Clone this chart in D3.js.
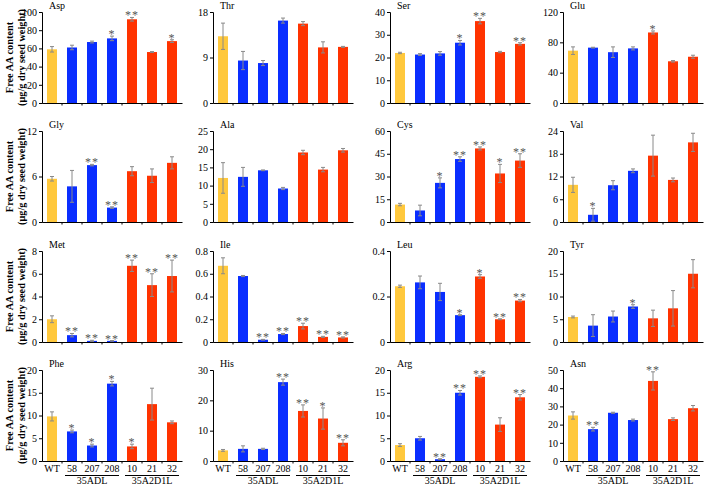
<!DOCTYPE html>
<html><head><meta charset="utf-8">
<script src="https://cdn.jsdelivr.net/npm/d3@7"></script>
<style>
body{margin:0;background:#fff;}
svg text{font-family:"Liberation Serif","Times New Roman",serif;}
</style></head>
<body><svg id="c" width="709" height="486"></svg>
<script>
const categories = ["WT","58","207","208","10","21","32"];
const groups = [{label:"35ADL", from:1, to:3},{label:"35A2D1L", from:4, to:6}];
const barColors = ["#FFC83C","#0A2EFF","#0A2EFF","#0A2EFF","#FF3300","#FF3300","#FF3300"];

const aminoAcids = ["Asp","Thr","Ser","Glu","Gly","Ala","Cys","Val","Met","Ile","Leu","Tyr","Phe","His","Arg","Asn"];
const yMax  = [100,18,40,120, 12,25,60,24, 8,0.8,0.4,20, 20,30,20,50];
const yTicks = [
 [0,20,40,60,80,100],[0,9,18],[0,10,20,30,40],[0,40,80,120],
 [0,6,12],[0,5,10,15,20,25],[0,15,30,45,60],[0,6,12,18,24],
 [0,2,4,6,8],[0,0.2,0.4,0.6,0.8],[0,0.2,0.4],[0,5,10,15,20],
 [0,5,10,15,20],[0,10,20,30],[0,5,10,15,20],[0,10,20,30,40,50]
];
const means = [
 [59,61,67,71,92,56,68],
 [13.2,8.4,7.9,16.3,15.7,11.0,11.1],
 [22,21.3,21.8,26.5,36,22.4,26],
 [69,73,67,72,93,55,61],
 [5.7,4.7,7.5,1.9,6.7,6.1,7.8],
 [12.1,12.4,14.2,9.2,19.1,14.4,19.7],
 [11.5,7.6,25.8,41.5,48.5,32,40.5],
 [9.8,1.9,9.7,13.5,17.5,11.1,21],
 [2.0,0.6,0.1,0.1,6.7,5.0,5.8],
 [0.67,0.58,0.02,0.07,0.14,0.045,0.04],
 [0.245,0.262,0.22,0.118,0.288,0.1,0.182],
 [5.5,3.6,5.6,7.8,5.2,7.4,15.0],
 [9.8,6.5,3.4,17,3.2,12.5,8.5],
 [3.5,4,4,26,16.5,14,6],
 [3.5,5,0.4,15,18.5,8,14],
 [25,17.5,26.5,22.5,44,23,29]
];
const errors = [
 [3,2.5,1,2.5,2,0.5,1.5],
 [2.6,1.8,0.5,0.5,0.4,1.1,0.1],
 [0.3,0.4,0.8,1,1.2,0.3,0.5],
 [5,0.5,7,2,2,1,2],
 [0.3,2.1,0.1,0.1,0.6,0.9,0.8],
 [4.2,2.6,0.1,0.3,0.6,0.6,0.5],
 [0.8,3.5,3.3,1.5,1,6,4.5],
 [2,1.7,1.2,0.5,5.4,0.5,2.4],
 [0.3,0.15,0.05,0.03,0.5,1.0,1.4],
 [0.07,0.005,0.003,0.005,0.025,0.005,0.005],
 [0.005,0.028,0.038,0.002,0.008,0.002,0.005],
 [0.2,2.4,1.2,0.4,1.8,3.9,3.1],
 [1,0.3,0.3,0.5,0.5,3.5,0.3],
 [0.3,1,0.2,1,2,3.5,1],
 [0.3,0.4,0.1,0.5,0.2,1.5,0.6],
 [2,1,0.3,0.5,5,0.7,1.5]
];
const signif = [
 ["","","","*","**","","*"],
 ["","","","","","",""],
 ["","","","*","**","","**"],
 ["","","","","*","",""],
 ["","","**","**","","",""],
 ["","","","","","",""],
 ["","","*","**","**","*","**"],
 ["","*","","","","",""],
 ["","**","**","**","**","**","**"],
 ["","","**","**","**","**","**"],
 ["","","","*","*","**","**"],
 ["","","","*","","",""],
 ["","*","*","*","*","",""],
 ["","","","**","**","*","**"],
 ["","","**","**","**","","**"],
 ["","**","","","**","",""]
];
const yLabel1 = "Free AA content";
const yLabel2 = "(μg/g dry seed weight)";

const svg = d3.select("#c");
const colX = [42,213,390,563];
const rowTop = [12,131,251,370];
const pw = 140, ph = 91;
const FS = 10;

aminoAcids.forEach((name,i)=>{
  const r = Math.floor(i/4), c = i%4;
  const g = svg.append("g").attr("transform",`translate(${colX[c]},${rowTop[r]})`);
  const x = d3.scaleBand().domain(categories).range([0,pw]).paddingInner(0.5).paddingOuter(0.25);
  const y = d3.scaleLinear().domain([0,yMax[i]]).range([ph,0]);
  const data = categories.map((k,j)=>({k,m:means[i][j],e:errors[i][j],s:signif[i][j],col:barColors[j]}));
  const cx = d => x(d.k)+x.bandwidth()/2;
  // bars
  g.selectAll("rect.bar").data(data).enter().append("rect")
    .attr("x",d=>x(d.k)).attr("width",x.bandwidth())
    .attr("y",d=>y(d.m)).attr("height",d=>ph-y(d.m)).attr("fill",d=>d.col);
  // error bars
  const eg = g.selectAll("g.err").data(data).enter().append("g").attr("stroke","#8a8a8a").attr("stroke-width",1);
  eg.append("line").attr("x1",cx).attr("x2",cx)
    .attr("y1",d=>y(d.m-d.e)).attr("y2",d=>y(d.m+d.e));
  eg.append("line").attr("x1",d=>cx(d)-2).attr("x2",d=>cx(d)+2)
    .attr("y1",d=>y(d.m+d.e)).attr("y2",d=>y(d.m+d.e));
  eg.append("line").attr("x1",d=>cx(d)-2).attr("x2",d=>cx(d)+2)
    .attr("y1",d=>y(d.m-d.e)).attr("y2",d=>y(d.m-d.e));
  // significance
  g.selectAll("text.sig").data(data.filter(d=>d.s)).enter().append("text")
    .attr("x",cx).attr("y",d=>y(d.m+d.e)+2)
    .attr("text-anchor","middle").attr("font-size",12).attr("fill","#555")
    .attr("letter-spacing","1px").text(d=>d.s);
  // y axis
  const fmt = v => v===0 ? "0" : (yMax[i]<1 ? d3.format(".1f")(v) : String(v));
  const ya = g.append("g").call(d3.axisLeft(y).tickValues(yTicks[i]).tickSize(3).tickPadding(2).tickFormat(fmt));
  ya.attr("font-family",null);
  ya.select(".domain").attr("stroke","#000");
  ya.selectAll("text").attr("font-size",FS).attr("fill","#000");
  // x axis
  const xa = g.append("g").attr("transform",`translate(0,${ph})`)
    .call(d3.axisBottom(x).tickSize(0).tickPadding(4).tickFormat(r===3? (d=>d) : ""));
  xa.attr("font-family",null);
  xa.select(".domain").attr("stroke","#000");
  xa.selectAll("text").attr("font-size",FS).attr("fill","#000");
  const step = x.step();
  const bounds = d3.range(1,categories.length).map(j=>x(categories[j])-step*x.paddingInner()/2);
  g.selectAll("line.xt").data(bounds).enter().append("line")
    .attr("x1",d=>d).attr("x2",d=>d).attr("y1",ph).attr("y2",ph+2.5).attr("stroke","#000");
  // title
  g.append("text").attr("x",x(categories[0])+2).attr("y",-3).attr("font-size",FS).text(name);
  // group labels
  if(r===3){
    groups.forEach(gr=>{
      const x0 = x(categories[gr.from])-2, x1 = x(categories[gr.to])+x.bandwidth()+2;
      g.append("line").attr("x1",x0).attr("x2",x1).attr("y1",ph+14.5).attr("y2",ph+14.5).attr("stroke","#000");
      g.append("text").attr("x",(x0+x1)/2).attr("y",ph+23).attr("text-anchor","middle").attr("font-size",FS).text(gr.label);
    });
  }
  // y label
  if(c===0){
    const cy = rowTop[r]+ph/2;
    svg.append("text").attr("transform",`translate(13,${cy}) rotate(-90)`).attr("text-anchor","middle")
      .attr("font-size",10.3).attr("font-weight","bold").text(yLabel1);
    svg.append("text").attr("transform",`translate(25,${cy}) rotate(-90)`).attr("text-anchor","middle")
      .attr("font-size",10.3).attr("font-weight","bold").text(yLabel2);
  }
});
</script></body></html>
